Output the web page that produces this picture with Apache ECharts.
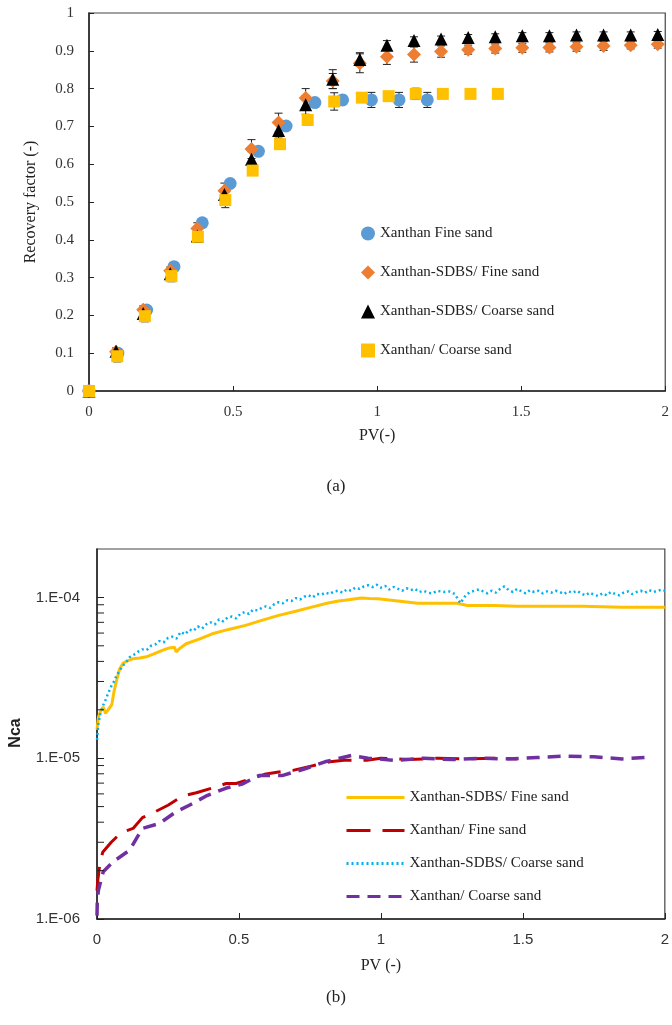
<!DOCTYPE html>
<html>
<head>
<meta charset="utf-8">
<script src="https://cdn.jsdelivr.net/npm/echarts@6/dist/echarts.min.js"></script>
<style>html,body{margin:0;padding:0;background:#fff;}#c{width:672px;height:1025px;}</style>
</head>
<body>
<div id="c"></div>
<script>
// ---------- (a) Recovery factor ----------
const fineX = [0, 0.1, 0.2, 0.295, 0.393, 0.49, 0.588, 0.684, 0.784, 0.88, 0.98, 1.076, 1.174];
const fineY = [0, 0.10, 0.214, 0.329, 0.445, 0.549, 0.634, 0.701, 0.763, 0.77, 0.77, 0.77, 0.77];
const fineErr = [0, 0, 0, 0, 0, 0, 0, 0, 0, 0.012, 0.02, 0.02, 0.02];

const sdbsFineX = [0, 0.094, 0.188, 0.282, 0.376, 0.47, 0.564, 0.658, 0.752, 0.846, 0.94, 1.034, 1.128, 1.222, 1.316, 1.41, 1.504, 1.598, 1.692, 1.786, 1.88, 1.974];
const sdbsFineY = [0, 0.104, 0.215, 0.318, 0.43, 0.53, 0.64, 0.71, 0.775, 0.82, 0.867, 0.884, 0.89, 0.898, 0.903, 0.906, 0.908, 0.909, 0.911, 0.913, 0.915, 0.917];
const sdbsFineErr = [0, 0.01, 0.01, 0.01, 0.015, 0.02, 0.025, 0.025, 0.025, 0.02, 0.025, 0.02, 0.02, 0.015, 0.012, 0.012, 0.012, 0.012, 0.012, 0.012, 0.01, 0.01];

const sdbsCoarseX = [0, 0.094, 0.188, 0.282, 0.376, 0.47, 0.564, 0.658, 0.752, 0.846, 0.94, 1.034, 1.128, 1.222, 1.316, 1.41, 1.504, 1.598, 1.692, 1.786, 1.88, 1.974];
const sdbsCoarseY = [0, 0.105, 0.205, 0.31, 0.41, 0.52, 0.613, 0.689, 0.757, 0.825, 0.877, 0.915, 0.927, 0.931, 0.935, 0.937, 0.94, 0.94, 0.942, 0.942, 0.942, 0.943];
const sdbsCoarseErr = [0, 0, 0, 0, 0, 0.015, 0.02, 0.02, 0.025, 0.025, 0.018, 0.012, 0.01, 0.008, 0.008, 0.008, 0.008, 0.008, 0.008, 0.008, 0.008, 0.008];

const coarseX = [0, 0.098, 0.194, 0.286, 0.378, 0.473, 0.568, 0.663, 0.759, 0.851, 0.947, 1.04, 1.134, 1.228, 1.324, 1.419];
const coarseY = [0, 0.092, 0.198, 0.304, 0.408, 0.505, 0.583, 0.653, 0.717, 0.766, 0.776, 0.78, 0.786, 0.786, 0.786, 0.786];
const coarseErr = [0, 0.015, 0.015, 0.015, 0.015, 0.02, 0, 0, 0, 0.023, 0, 0, 0.015, 0, 0, 0];

// ---------- (b) Nca ----------
const nSdbsFineX = [0, 0.005, 0.012, 0.022, 0.03, 0.039, 0.046, 0.052, 0.06, 0.069, 0.08, 0.092, 0.11, 0.127, 0.15, 0.174, 0.2, 0.232, 0.255, 0.273, 0.279, 0.29, 0.314, 0.36, 0.406, 0.46, 0.523, 0.58, 0.64, 0.7, 0.756, 0.81, 0.85, 0.873, 0.931, 0.96, 0.99, 1.013, 1.06, 1.129, 1.2, 1.269, 1.304, 1.4, 1.479, 1.6, 1.712, 1.85, 2.0];
const nSdbsFineY = [1.5e-5, 1.8e-5, 1.95e-5, 2.08e-5, 1.9e-5, 2.0e-5, 1.95e-5, 2.15e-5, 2.6e-5, 3.05e-5, 3.6e-5, 3.9e-5, 4.05e-5, 4.16e-5, 4.2e-5, 4.27e-5, 4.45e-5, 4.7e-5, 4.85e-5, 4.9e-5, 4.57e-5, 4.8e-5, 5.15e-5, 5.5e-5, 5.94e-5, 6.3e-5, 6.7e-5, 7.2e-5, 7.73e-5, 8.2e-5, 8.7e-5, 9.2e-5, 9.5e-5, 9.6e-5, 9.9e-5, 9.85e-5, 9.8e-5, 9.7e-5, 9.5e-5, 9.2e-5, 9.2e-5, 9.2e-5, 8.9e-5, 8.9e-5, 8.8e-5, 8.8e-5, 8.8e-5, 8.7e-5, 8.7e-5];

const nFineX = [0, 0.003, 0.01, 0.02, 0.05, 0.085, 0.127, 0.16, 0.2, 0.25, 0.3, 0.35, 0.42, 0.455, 0.49, 0.55, 0.59, 0.64, 0.69, 0.75, 0.82, 0.87, 0.95, 1.0, 1.05, 1.1, 1.2, 1.3, 1.4, 1.48];
const nFineY = [1.5e-6, 1.75e-6, 2.2e-6, 2.6e-6, 3.0e-6, 3.45e-6, 3.66e-6, 4.27e-6, 4.6e-6, 5.1e-6, 5.8e-6, 6.1e-6, 6.64e-6, 6.96e-6, 6.96e-6, 7.5e-6, 7.94e-6, 8.2e-6, 8.4e-6, 8.9e-6, 9.5e-6, 9.7e-6, 9.7e-6, 1.0e-5, 9.9e-6, 9.8e-6, 1.0e-5, 9.9e-6, 1.0e-5, 9.9e-6];

const nSdbsCoarseX = [0, 0.005, 0.012, 0.02, 0.03, 0.04, 0.05, 0.06, 0.07, 0.08, 0.09, 0.1, 0.115, 0.13, 0.145, 0.16, 0.175, 0.19, 0.205, 0.22, 0.235, 0.25, 0.265, 0.28, 0.295, 0.31, 0.325, 0.34, 0.355, 0.37, 0.385, 0.4, 0.415, 0.43, 0.445, 0.46, 0.475, 0.49, 0.505, 0.52, 0.535, 0.55, 0.565, 0.58, 0.595, 0.61, 0.625, 0.64, 0.655, 0.67, 0.685, 0.7, 0.715, 0.73, 0.745, 0.76, 0.775, 0.79, 0.805, 0.82, 0.835, 0.85, 0.865, 0.88, 0.895, 0.91, 0.925, 0.94, 0.955, 0.97, 0.985, 1.0, 1.015, 1.03, 1.045, 1.06, 1.075, 1.09, 1.105, 1.12, 1.135, 1.15, 1.165, 1.18, 1.2, 1.22, 1.24, 1.26, 1.28, 1.3, 1.315, 1.33, 1.345, 1.36, 1.375, 1.39, 1.405, 1.42, 1.435, 1.45, 1.465, 1.48, 1.495, 1.51, 1.525, 1.54, 1.555, 1.57, 1.585, 1.6, 1.615, 1.63, 1.645, 1.66, 1.675, 1.69, 1.705, 1.72, 1.735, 1.75, 1.765, 1.78, 1.795, 1.81, 1.825, 1.84, 1.855, 1.87, 1.885, 1.9, 1.915, 1.93, 1.945, 1.96, 1.975, 1.99, 2.0];
const nSdbsCoarseY = [1.3e-5, 1.65e-5, 1.9e-5, 2.1e-5, 2.3e-5, 2.55e-5, 2.8e-5, 3.0e-5, 3.3e-5, 3.5e-5, 3.75e-5, 3.9e-5, 4.25e-5, 4.4e-5, 4.6e-5, 4.75e-5, 4.7e-5, 5.0e-5, 5.1e-5, 5.35e-5, 5.25e-5, 5.6e-5, 5.7e-5, 5.55e-5, 6.1e-5, 5.9e-5, 6.3e-5, 6.2e-5, 6.6e-5, 6.4e-5, 6.8e-5, 7.0e-5, 6.8e-5, 7.3e-5, 7.1e-5, 7.5e-5, 7.6e-5, 7.4e-5, 7.9e-5, 8.1e-5, 7.9e-5, 8.4e-5, 8.3e-5, 8.6e-5, 8.8e-5, 8.6e-5, 9.1e-5, 9.35e-5, 9.2e-5, 9.6e-5, 9.5e-5, 9.9e-5, 9.7e-5, 1.01e-4, 1.03e-4, 1.0e-4, 1.05e-4, 1.04e-4, 1.07e-4, 1.05e-4, 1.09e-4, 1.1e-4, 1.07e-4, 1.12e-4, 1.1e-4, 1.15e-4, 1.13e-4, 1.17e-4, 1.19e-4, 1.16e-4, 1.2e-4, 1.15e-4, 1.18e-4, 1.12e-4, 1.16e-4, 1.13e-4, 1.1e-4, 1.14e-4, 1.11e-4, 1.13e-4, 1.08e-4, 1.1e-4, 1.07e-4, 1.06e-4, 1.1e-4, 1.08e-4, 1.09e-4, 1.05e-4, 9.2e-5, 1.04e-4, 1.08e-4, 1.1e-4, 1.12e-4, 1.09e-4, 1.06e-4, 1.1e-4, 1.07e-4, 1.13e-4, 1.17e-4, 1.11e-4, 1.08e-4, 1.13e-4, 1.09e-4, 1.06e-4, 1.11e-4, 1.08e-4, 1.1e-4, 1.06e-4, 1.09e-4, 1.07e-4, 1.1e-4, 1.08e-4, 1.05e-4, 1.09e-4, 1.07e-4, 1.1e-4, 1.06e-4, 1.03e-4, 1.07e-4, 1.04e-4, 1.02e-4, 1.06e-4, 1.03e-4, 1.08e-4, 1.05e-4, 1.03e-4, 1.07e-4, 1.09e-4, 1.05e-4, 1.08e-4, 1.1e-4, 1.07e-4, 1.11e-4, 1.08e-4, 1.1e-4, 1.12e-4, 1.1e-4];

const nCoarseX = [0, 0.001, 0.005, 0.022, 0.057, 0.115, 0.16, 0.22, 0.278, 0.325, 0.383, 0.453, 0.511, 0.57, 0.652, 0.733, 0.803, 0.896, 0.955, 1.05, 1.15, 1.25, 1.35, 1.45, 1.55, 1.65, 1.75, 1.85, 1.93];
const nCoarseY = [1.05e-6, 1.3e-6, 1.51e-6, 1.97e-6, 2.27e-6, 2.68e-6, 3.66e-6, 3.93e-6, 4.64e-6, 5.1e-6, 5.8e-6, 6.5e-6, 6.9e-6, 7.8e-6, 7.8e-6, 8.6e-6, 9.5e-6, 1.04e-5, 1.0e-5, 9.7e-6, 1.0e-5, 9.8e-6, 1.0e-5, 9.9e-6, 1.01e-5, 1.03e-5, 1.02e-5, 9.9e-6, 1.01e-5];

const minorTickValues = [2e-6, 3e-6, 4e-6, 5e-6, 6e-6, 7e-6, 8e-6, 9e-6, 2e-5, 3e-5, 4e-5, 5e-5, 6e-5, 7e-5, 8e-5, 9e-5];

// ---------- build ----------
const zip = (xs, ys) => xs.map((x, i) => [x, ys[i]]);
const errData = (xs, ys, es) => xs.map((x, i) => [x, ys[i] - es[i], ys[i] + es[i], es[i]]).filter(d => d[3] > 0);

const SERIF = '"Liberation Serif", "Times New Roman", serif';
const SANS = '"Liberation Sans", Arial, sans-serif';

function errRender(params, api) {
  const x = api.value(0);
  const lo = api.coord([x, api.value(1)]);
  const hi = api.coord([x, api.value(2)]);
  const w = 4;
  const st = { stroke: '#222', lineWidth: 1 };
  return { type: 'group', children: [
    { type: 'line', shape: { x1: lo[0], y1: lo[1], x2: hi[0], y2: hi[1] }, style: st },
    { type: 'line', shape: { x1: lo[0] - w, y1: lo[1], x2: lo[0] + w, y2: lo[1] }, style: st },
    { type: 'line', shape: { x1: hi[0] - w, y1: hi[1], x2: hi[0] + w, y2: hi[1] }, style: st }
  ]};
}

const chart = echarts.init(document.getElementById('c'), null, { renderer: 'canvas' });

const option = {
  backgroundColor: '#fff',
  animation: false,
  grid: [
    { left: 89, right: 5, top: 13, height: 378, show: true, borderColor: '#444', borderWidth: 1.2 },
    { left: 97, right: 4, top: 549, height: 370, show: true, borderColor: '#444', borderWidth: 1.2 }
  ],
  xAxis: [
    { gridIndex: 0, type: 'value', min: 0, max: 2, interval: 0.5,
      name: 'PV(-)', nameLocation: 'middle', nameGap: 37,
      nameTextStyle: { fontFamily: SERIF, fontSize: 16, color: '#222' },
      axisLine: { show: true, onZero: false, lineStyle: { color: '#222', width: 1.5 } },
      axisTick: { show: true, inside: true, length: 5, lineStyle: { color: '#222' } },
      axisLabel: { margin: 14, fontFamily: SERIF, fontSize: 15, color: '#333' },
      splitLine: { show: false } },
    { gridIndex: 1, type: 'value', min: 0, max: 2, interval: 0.5,
      name: 'PV (-)', nameLocation: 'middle', nameGap: 39,
      nameTextStyle: { fontFamily: SERIF, fontSize: 16, color: '#222' },
      axisLine: { show: true, onZero: false, lineStyle: { color: '#222', width: 1.5 } },
      axisTick: { show: true, inside: true, length: 6, lineStyle: { color: '#222' } },
      axisLabel: { margin: 13, fontFamily: SANS, fontSize: 15, color: '#333' },
      splitLine: { show: false } }
  ],
  yAxis: [
    { gridIndex: 0, type: 'value', min: 0, max: 1, interval: 0.1,
      name: 'Recovery factor (-)', nameLocation: 'middle', nameGap: 50,
      nameTextStyle: { fontFamily: SERIF, fontSize: 16, color: '#222' },
      axisLine: { show: true, lineStyle: { color: '#222', width: 1.5 } },
      axisTick: { show: true, inside: true, length: 5, lineStyle: { color: '#222' } },
      axisLabel: { margin: 15, fontFamily: SERIF, fontSize: 15, color: '#333' },
      splitLine: { show: false } },
    { gridIndex: 1, type: 'log', logBase: 10, min: 1e-6, max: 2e-4,
      axisLine: { show: true, lineStyle: { color: '#222', width: 1.5 } },
      axisTick: { show: true, inside: true, length: 7, lineStyle: { color: '#222' } },
      axisLabel: { margin: 17, fontFamily: SANS, fontSize: 15, color: '#333', showMaxLabel: false,
        formatter: function (v) {
          const l = Math.log10(v); const e = Math.round(l);
          if (Math.abs(l - e) > 1e-6) return '';
          const a = Math.abs(e); return '1.E' + (e < 0 ? '-' : '+') + (a < 10 ? '0' + a : a);
        } },
      splitLine: { show: false } }
  ],
  legend: [
    { orient: 'vertical', left: 356, top: 221, itemWidth: 14, itemHeight: 14, itemGap: 24,
      textStyle: { fontFamily: SERIF, fontSize: 15, color: '#222' },
      data: ['Xanthan Fine sand', 'Xanthan-SDBS/ Fine sand', 'Xanthan-SDBS/ Coarse sand', 'Xanthan/ Coarse sand'] },
    { orient: 'vertical', left: 340, top: 785, itemWidth: 58, itemHeight: 14, itemGap: 18,
      itemStyle: { opacity: 0 }, lineStyle: { width: 3 },
      textStyle: { fontFamily: SERIF, fontSize: 15, color: '#222' },
      data: ['Xanthan-SDBS/ Fine sand ', 'Xanthan/ Fine sand', 'Xanthan-SDBS/ Coarse sand ', 'Xanthan/ Coarse sand '] }
  ],
  graphic: [
    { type: 'text', left: 'center', top: 478, style: { text: '(a)', font: '17px ' + SERIF, fill: '#222' } },
    { type: 'text', left: 'center', top: 989, style: { text: '(b)', font: '17px ' + SERIF, fill: '#222' } },
    { type: 'text', x: 16, y: 733, rotation: Math.PI / 2,
      style: { text: 'Nca', font: 'bold 16px ' + SANS, fill: '#222', align: 'center', verticalAlign: 'middle' } }
  ],
  series: [
    // error bars (a)
    { type: 'custom', xAxisIndex: 0, yAxisIndex: 0, renderItem: errRender, z: 1, silent: true,
      data: [].concat(errData(fineX, fineY, fineErr), errData(sdbsFineX, sdbsFineY, sdbsFineErr),
                      errData(sdbsCoarseX, sdbsCoarseY, sdbsCoarseErr), errData(coarseX, coarseY, coarseErr)),
      encode: { x: 0, y: [1, 2] } },
    { name: 'Xanthan Fine sand', type: 'scatter', xAxisIndex: 0, yAxisIndex: 0, z: 3,
      symbol: 'circle', symbolSize: 13, itemStyle: { color: '#5B9BD5', opacity: 1 }, data: zip(fineX, fineY) },
    { name: 'Xanthan-SDBS/ Fine sand', type: 'scatter', xAxisIndex: 0, yAxisIndex: 0, z: 4,
      symbol: 'diamond', symbolSize: 14, itemStyle: { color: '#ED7D31', opacity: 1 }, data: zip(sdbsFineX, sdbsFineY) },
    { name: 'Xanthan-SDBS/ Coarse sand', type: 'scatter', xAxisIndex: 0, yAxisIndex: 0, z: 5,
      symbol: 'triangle', symbolSize: 13, itemStyle: { color: '#000', opacity: 1 }, data: zip(sdbsCoarseX, sdbsCoarseY) },
    { name: 'Xanthan/ Coarse sand', type: 'scatter', xAxisIndex: 0, yAxisIndex: 0, z: 6,
      symbol: 'rect', symbolSize: 12, itemStyle: { color: '#FFC000', opacity: 1 }, data: zip(coarseX, coarseY) },

    // (b)
    { name: 'Xanthan-SDBS/ Fine sand ', type: 'line', xAxisIndex: 1, yAxisIndex: 1, showSymbol: false, symbol: 'none',
      lineStyle: { color: '#FFC000', width: 3 }, itemStyle: { color: '#FFC000' }, data: zip(nSdbsFineX, nSdbsFineY) },
    { name: 'Xanthan/ Fine sand', type: 'line', xAxisIndex: 1, yAxisIndex: 1, showSymbol: false, symbol: 'none',
      lineStyle: { color: '#C00000', width: 3, type: [24, 12] }, itemStyle: { color: '#C00000' }, data: zip(nFineX, nFineY) },
    { name: 'Xanthan-SDBS/ Coarse sand ', type: 'line', xAxisIndex: 1, yAxisIndex: 1, showSymbol: false, symbol: 'none',
      lineStyle: { color: '#00B0F0', width: 2.5, type: [2, 3] }, itemStyle: { color: '#00B0F0' }, data: zip(nSdbsCoarseX, nSdbsCoarseY) },
    { name: 'Xanthan/ Coarse sand ', type: 'line', xAxisIndex: 1, yAxisIndex: 1, showSymbol: false, symbol: 'none',
      lineStyle: { color: '#7030A0', width: 3.5, type: [13, 8] }, itemStyle: { color: '#7030A0' }, data: zip(nCoarseX, nCoarseY) },

    // minor ticks for log axis
    { type: 'custom', xAxisIndex: 1, yAxisIndex: 1, silent: true, z: 10, clip: false,
      data: minorTickValues.map(v => [0, v]),
      renderItem: function (params, api) {
        const p = api.coord([0, api.value(1)]);
        return { type: 'line', shape: { x1: p[0], y1: p[1], x2: p[0] + 7, y2: p[1] }, style: { stroke: '#222', lineWidth: 1 } };
      } }
  ]
};
chart.setOption(option);
</script>
</body>
</html>
